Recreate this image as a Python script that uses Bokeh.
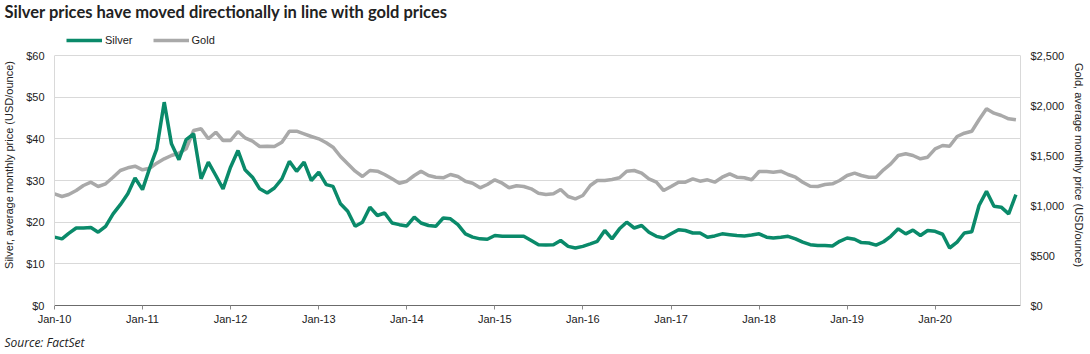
import pandas as pd
from datetime import datetime
from bokeh.plotting import figure
from bokeh.models import (Range1d, LinearAxis, FixedTicker, NumeralTickFormatter,
                          DatetimeTickFormatter, Legend, LegendItem, Title, ColumnDataSource)
from bokeh.embed import file_html
from bokeh.resources import INLINE

months = pd.date_range("2010-01-01", periods=132, freq="MS")

silver = [16.4, 16.0, 17.3, 18.6, 18.6, 18.7, 17.6, 19.0, 22.0, 24.2, 26.8, 30.6,
          27.8, 33.2, 37.6, 48.8, 38.8, 35.0, 39.8, 41.2, 30.4, 34.4, 31.2, 28.0,
          33.2, 37.2, 32.6, 30.8, 28.0, 27.0, 28.2, 30.4, 34.6, 32.2, 34.4, 30.0,
          32.0, 29.0, 28.6, 24.4, 22.6, 19.0, 20.0, 23.6, 21.6, 22.2, 19.8, 19.4,
          19.1, 21.2, 19.8, 19.2, 19.0, 21.0, 20.8, 19.4, 17.2, 16.4, 16.0, 15.9,
          16.8, 16.6, 16.6, 16.6, 16.6, 15.6, 14.6, 14.5, 14.6, 15.6, 14.2, 13.8,
          14.2, 14.8, 15.4, 18.0, 16.0, 18.4, 20.0, 18.6, 19.2, 17.6, 16.6, 16.2,
          17.2, 18.2, 18.0, 17.4, 17.4, 16.4, 16.7, 17.2, 17.0, 16.8, 16.7, 16.9,
          17.2, 16.4, 16.2, 16.4, 16.6, 16.0, 15.2, 14.6, 14.4, 14.4, 14.3, 15.4,
          16.2, 15.9, 15.1, 15.0, 14.5, 15.3, 16.6, 18.4, 17.2, 18.1, 16.8, 18.0,
          17.8, 17.1, 13.8, 15.2, 17.4, 17.7, 24.0, 27.4, 23.8, 23.6, 22.0, 26.6]

gold = [1117, 1090, 1110, 1150, 1200, 1233, 1190, 1217, 1283, 1350, 1377, 1393,
        1357, 1373, 1423, 1467, 1500, 1523, 1567, 1750, 1767, 1667, 1733, 1650,
        1650, 1740, 1677, 1643, 1590, 1593, 1590, 1633, 1743, 1743, 1717, 1690,
        1667, 1627, 1583, 1490, 1417, 1343, 1290, 1350, 1343, 1310, 1267, 1223,
        1243, 1300, 1343, 1300, 1283, 1277, 1310, 1290, 1243, 1223, 1177, 1210,
        1257, 1223, 1177, 1197, 1190, 1167, 1123, 1110, 1117, 1160, 1090, 1067,
        1100, 1200, 1250, 1250, 1260, 1277, 1343, 1350, 1323, 1267, 1233, 1150,
        1190, 1233, 1233, 1267, 1243, 1257, 1233, 1283, 1317, 1283, 1277, 1257,
        1340, 1340, 1333, 1343, 1310, 1283, 1233, 1193, 1190, 1210, 1217, 1250,
        1300, 1323, 1300, 1283, 1283, 1357, 1417, 1500, 1517, 1500, 1467, 1483,
        1567, 1600, 1593, 1690, 1723, 1743, 1857, 1967, 1923, 1900, 1867, 1857]

year_ticks = pd.date_range("2010-01-01", "2020-01-01", freq="YS")
silver_ticks = [0, 10, 20, 30, 40, 50, 60]
gold_ticks = [0, 500, 1000, 1500, 2000, 2500]

title_text = "Silver prices have moved directionally in line with gold prices"
source_text = "Source: FactSet"
silver_label = "Silver, average monthly price (USD/ounce)"
gold_label = "Gold, average monthly price (USD/ounce)"

SILVER_COLOR = "#0a8a6a"
GOLD_COLOR = "#a9a9a9"
GRID = "#d9d9d9"
TXT = "#222222"

# headroom above the top tick so that the legend sits inside the frame
HEAD = 1.124

src = ColumnDataSource(dict(month=months, silver=silver, gold=gold))

p = figure(width=1090, height=354, x_axis_type="datetime", output_backend="svg",
           toolbar_location=None,
           x_range=Range1d(datetime(2010, 1, 1), datetime(2020, 12, 20)),
           y_range=Range1d(0, silver_ticks[-1] * HEAD),
           min_border_left=52, min_border_right=70, min_border_top=24, min_border_bottom=49,
           background_fill_color="white", border_fill_color="white")

p.title.text = title_text
p.title.align = "left"
p.title.vertical_align = "top"
p.title.offset = -50
p.title.standoff = 2
p.title.text_font = "Lato"
p.title.text_font_style = "bold"
p.title.text_font_size = "16.5px"
p.title.text_color = TXT

p.extra_y_ranges = {"gold": Range1d(0, gold_ticks[-1] * HEAD)}

rg = p.line("month", "gold", source=src, y_range_name="gold", line_color=GOLD_COLOR, line_width=3.5)
rs = p.line("month", "silver", source=src, line_color=SILVER_COLOR, line_width=3.5)

p.outline_line_color = None
p.xgrid.visible = False
p.ygrid.grid_line_color = GRID
p.ygrid.ticker = FixedTicker(ticks=silver_ticks)

xa = p.xaxis[0]
xa.ticker = FixedTicker(ticks=[t.timestamp() * 1000 for t in year_ticks])
xa.formatter = DatetimeTickFormatter(years="%b-%y", months="%b-%y", days="%b-%y")
xa.axis_line_color = "#6b6b6b"
xa.major_tick_line_color = "#8a8a8a"
xa.major_tick_out = 4
xa.major_tick_in = 0
xa.minor_tick_line_color = None
xa.minor_tick_out = 0
xa.major_label_standoff = 3
xa.major_label_text_font = "Liberation Sans"
xa.major_label_text_font_size = "11px"
xa.major_label_text_color = TXT

ya = p.yaxis[0]
ya.ticker = FixedTicker(ticks=silver_ticks)
ya.formatter = NumeralTickFormatter(format="$0,0")
ya.axis_label = silver_label
ya.bounds = (silver_ticks[0], silver_ticks[-1])

ra = LinearAxis(y_range_name="gold", ticker=FixedTicker(ticks=gold_ticks),
                formatter=NumeralTickFormatter(format="$0,0"), axis_label=gold_label,
                bounds=(gold_ticks[0], gold_ticks[-1]))
p.add_layout(ra, "right")

for a in (ya, ra):
    a.axis_line_color = GRID
    a.major_tick_line_color = None
    a.minor_tick_line_color = None
    a.major_tick_out = 0
    a.major_tick_in = 0
    a.minor_tick_out = 0
    a.minor_tick_in = 0
    a.major_label_standoff = 10
    a.major_label_text_font = "Liberation Sans"
    a.major_label_text_font_size = "11px"
    a.major_label_text_color = TXT
    a.axis_label_text_font = "Liberation Sans"
    a.axis_label_text_font_size = "11px"
    a.axis_label_text_font_style = "normal"
    a.axis_label_text_color = TXT

ya.axis_label_standoff = 8
ra.axis_label_standoff = 6

legend = Legend(items=[LegendItem(label="Silver", renderers=[rs]),
                       LegendItem(label="Gold", renderers=[rg])],
                orientation="horizontal", location=(12, 259), padding=0, margin=0,
                border_line_color=None, background_fill_alpha=0,
                glyph_width=36, glyph_height=12, label_height=12, label_standoff=3, spacing=20,
                label_text_font="Liberation Sans", label_text_font_size="11px",
                label_text_color=TXT)
p.add_layout(legend)

p.add_layout(Title(text=source_text, align="left", offset=-50, standoff=8,
                   text_font="Open Sans", text_font_style="italic", text_font_size="12px",
                   text_color=TXT), "below")

open("out.html", "w").write(file_html(p, INLINE))
